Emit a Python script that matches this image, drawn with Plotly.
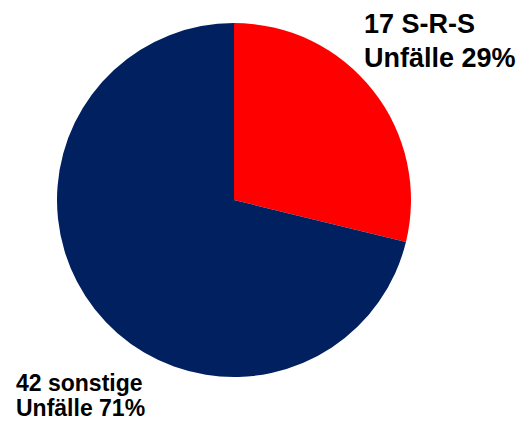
import plotly.graph_objects as go

categories = ["S-R-S Unfälle", "sonstige Unfälle"]
values = [17, 42]
colors = ["#FF0000", "#002060"]
label_lines_srs = ["17 S-R-S", "Unfälle 29%"]
label_lines_other = ["42 sonstige", "Unfälle 71%"]

W, H = 526, 428
cx, cy, r = 234, 200, 177

fig = go.Figure(go.Pie(
    labels=categories,
    values=values,
    marker=dict(colors=colors, line=dict(width=0)),
    sort=False,
    direction="clockwise",
    rotation=0,
    textinfo="none",
    hoverinfo="label+value+percent",
    domain=dict(x=[(cx - r) / W, (cx + r) / W],
                y=[(H - cy - r) / H, (H - cy + r) / H]),
    showlegend=False,
))

font_big = dict(family="Liberation Sans, Arial, sans-serif", size=27, color="#000000")
font_small = dict(family="Liberation Sans, Arial, sans-serif", size=23, color="#000000")

def add_line(text, x, baseline, font):
    fig.add_annotation(
        text="<b>%s</b>" % text, x=x / W, y=1 - (baseline + 0.28 * font["size"]) / H,
        xref="paper", yref="paper", xanchor="left", yanchor="bottom",
        showarrow=False, font=font, align="left",
    )

add_line(label_lines_srs[0], 362, 33.5, font_big)
add_line(label_lines_srs[1], 362, 67, font_big)
add_line(label_lines_other[0], 14, 392, font_small)
add_line(label_lines_other[1], 14, 417, font_small)

fig.update_layout(
    width=W, height=H,
    margin=dict(l=0, r=0, t=0, b=0),
    paper_bgcolor="white", plot_bgcolor="white",
)

fig.write_html(
    "out.html",
    config={"displayModeBar": False},
    post_script="document.body.style.margin='0';document.body.style.overflow='hidden';",
)
